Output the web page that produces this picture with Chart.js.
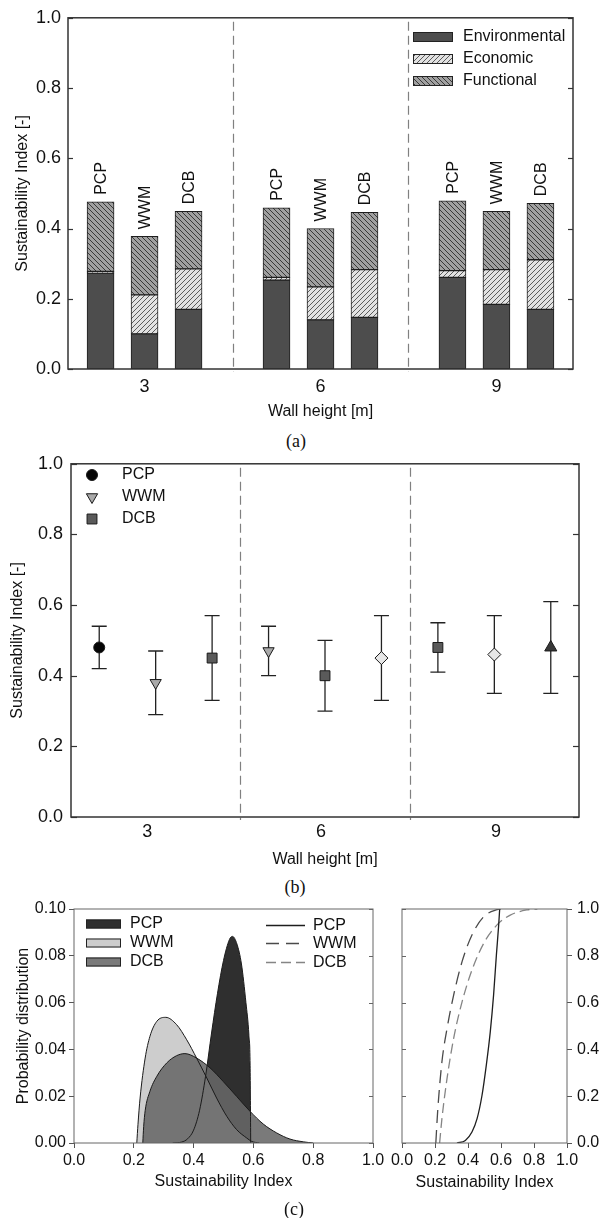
<!DOCTYPE html>
<html>
<head>
<meta charset="utf-8">
<title>Sustainability index of wall systems</title>
<script src="https://cdn.jsdelivr.net/npm/chart.js@4.4.1/dist/chart.umd.min.js"></script>
<style>
  html, body { margin: 0; padding: 0; background: #fff; }
  #page { position: relative; width: 606px; height: 1218px; overflow: hidden; }
  canvas { position: absolute; }
  .panel-tag {
    position: absolute;
    font-family: 'Liberation Serif', 'Times New Roman', serif;
    font-size: 18px;
    color: #111;
    transform: translate(-50%, -50%);
  }
</style>
</head>
<body>
<div id="page">
  <canvas id="chart-a" width="606" height="430" style="left:0;top:0"></canvas>
  <div class="panel-tag" style="left:296px;top:441px">(a)</div>
  <canvas id="chart-b" width="606" height="430" style="left:0;top:445px"></canvas>
  <div class="panel-tag" style="left:295px;top:887px">(b)</div>
  <canvas id="chart-c-pdf" width="390" height="328" style="left:0;top:890px"></canvas>
  <canvas id="chart-c-cdf" width="221" height="328" style="left:385px;top:890px"></canvas>
  <div class="panel-tag" style="left:294px;top:1209px">(c)</div>
</div>
<script>
const systems = ['PCP', 'WWM', 'DCB'];
const wallHeights = ['3', '6', '9'];
const componentNames = ['Environmental', 'Economic', 'Functional'];

// panel (a): stacked contributions, bars ordered 3 m (PCP, WWM, DCB), 6 m, 9 m
const environmental = [0.273, 0.100, 0.170, 0.253, 0.140, 0.147, 0.261, 0.184, 0.170];
const economic = [0.005, 0.111, 0.115, 0.008, 0.094, 0.136, 0.019, 0.099, 0.141];
const functional = [0.198, 0.167, 0.164, 0.198, 0.166, 0.163, 0.199, 0.166, 0.161];

// panel (b): index with its range, same order
const siMean = [0.48, 0.38, 0.45, 0.47, 0.40, 0.45, 0.48, 0.46, 0.48];
const siLow = [0.42, 0.29, 0.33, 0.40, 0.30, 0.33, 0.41, 0.35, 0.35];
const siHigh = [0.54, 0.47, 0.57, 0.54, 0.50, 0.57, 0.55, 0.57, 0.61];

// panel (c): probability distributions
const pdfPcpX = [0.33, 0.36, 0.38, 0.40, 0.42, 0.44, 0.46, 0.48, 0.50, 0.52, 0.53, 0.545, 0.56, 0.575, 0.585, 0.589, 0.591];
const pdfPcpY = [0, 0.0004, 0.0018, 0.0055, 0.0140, 0.0285, 0.0470, 0.0640, 0.0780, 0.0870, 0.0883, 0.0850, 0.0765, 0.0600, 0.0460, 0.0330, 0];
const pdfWwmX = [0.210, 0.214, 0.221, 0.238, 0.254, 0.277, 0.307, 0.343, 0.377, 0.410, 0.444, 0.477, 0.511, 0.544, 0.578, 0.594, 0.620];
const pdfWwmY = [0, 0.0080, 0.0192, 0.0363, 0.0456, 0.0520, 0.0537, 0.0506, 0.0441, 0.0363, 0.0278, 0.0192, 0.0114, 0.0057, 0.0021, 0.0007, 0];
const pdfDcbX = [0.230, 0.233, 0.238, 0.254, 0.277, 0.310, 0.343, 0.371, 0.410, 0.455, 0.499, 0.544, 0.589, 0.633, 0.678, 0.722, 0.767, 0.800];
const pdfDcbY = [0, 0.0070, 0.0138, 0.0221, 0.0285, 0.0342, 0.0373, 0.0382, 0.0363, 0.0321, 0.0263, 0.0199, 0.0135, 0.0081, 0.0043, 0.0017, 0.0005, 0];

// cumulative distributions
const cdfPcpX = [0.333, 0.384, 0.424, 0.455, 0.485, 0.511, 0.535, 0.555, 0.572, 0.586, 0.592];
const cdfPcpY = [0, 0.011, 0.047, 0.104, 0.204, 0.333, 0.475, 0.632, 0.803, 0.932, 1.0];
const cdfWwmX = [0.205, 0.216, 0.242, 0.273, 0.313, 0.364, 0.424, 0.495, 0.576, 0.600];
const cdfWwmY = [0, 0.134, 0.347, 0.489, 0.632, 0.775, 0.889, 0.967, 0.997, 1.0];
const cdfDcbX = [0.228, 0.242, 0.273, 0.313, 0.364, 0.424, 0.495, 0.576, 0.656, 0.758, 0.820];
const cdfDcbY = [0, 0.104, 0.276, 0.447, 0.603, 0.739, 0.853, 0.932, 0.974, 0.996, 1.0];

const FONT = "'Liberation Sans', Arial, sans-serif";
const INK = '#111';
Chart.defaults.font.family = FONT;
Chart.defaults.font.size = 16;
Chart.defaults.color = INK;
Chart.defaults.animation = false;
Chart.defaults.plugins.legend.display = false;
Chart.defaults.plugins.tooltip.enabled = false;

const toXY = (xs, ys) => xs.map((x, i) => ({ x, y: ys[i] }));

// --- small drawing plugins -------------------------------------------------

const framePlugin = {
  id: 'frame',
  afterDatasetsDraw(chart, args, opts) {
    const { ctx, chartArea: a } = chart;
    ctx.save();
    ctx.strokeStyle = opts.color;
    ctx.lineWidth = opts.width;
    ctx.strokeRect(a.left, a.top, a.right - a.left, a.bottom - a.top);
    ctx.restore();
  },
};

const innerTicksPlugin = {
  id: 'innerTicks',
  afterDatasetsDraw(chart, args, opts) {
    const { ctx, chartArea: a } = chart;
    const scale = chart.scales[opts.scale];
    ctx.save();
    ctx.strokeStyle = opts.color;
    ctx.lineWidth = opts.width;
    scale.ticks.forEach((t) => {
      const p = Math.round(scale.getPixelForValue(t.value)) + 0.5;
      opts.sides.forEach((side) => {
        ctx.beginPath();
        if (side === 'left') { ctx.moveTo(a.left, p); ctx.lineTo(a.left + opts.length, p); }
        if (side === 'right') { ctx.moveTo(a.right, p); ctx.lineTo(a.right - opts.length, p); }
        ctx.stroke();
      });
    });
    ctx.restore();
  },
};

const dividerPlugin = {
  id: 'dividers',
  beforeDatasetsDraw(chart, args, opts) {
    const { ctx, chartArea: a } = chart;
    const x = chart.scales.x;
    ctx.save();
    ctx.strokeStyle = opts.color;
    ctx.lineWidth = opts.width;
    ctx.setLineDash(opts.dash);
    opts.at.forEach((v) => {
      const px = Math.round(x.getPixelForValue(v)) + 0.5;
      ctx.beginPath();
      ctx.moveTo(px, a.top + 4);
      ctx.lineTo(px, a.bottom + 3);
      ctx.stroke();
    });
    ctx.restore();
  },
};

const barLabelPlugin = {
  id: 'barLabels',
  afterDatasetsDraw(chart, args, opts) {
    const { ctx } = chart;
    const top = chart.getDatasetMeta(chart.data.datasets.length - 1);
    ctx.save();
    ctx.font = `16px ${FONT}`;
    ctx.fillStyle = INK;
    ctx.textAlign = 'left';
    ctx.textBaseline = 'middle';
    top.data.forEach((bar, i) => {
      ctx.save();
      ctx.translate(bar.x + 1, bar.y - opts.gap);
      ctx.rotate(-Math.PI / 2);
      ctx.fillText(systems[i % 3], 0, 0);
      ctx.restore();
    });
    ctx.restore();
  },
};

const patchLegendPlugin = {
  id: 'patchLegend',
  afterDraw(chart, args, opts) {
    const { ctx } = chart;
    ctx.save();
    ctx.font = `16px ${FONT}`;
    ctx.textBaseline = 'middle';
    opts.items.forEach((di, row) => {
      const ds = chart.data.datasets[di];
      const y = opts.y + row * opts.step;
      ctx.fillStyle = ds.backgroundColor;
      ctx.fillRect(opts.x, y - opts.h / 2, opts.w, opts.h);
      ctx.strokeStyle = '#222';
      ctx.lineWidth = 1;
      ctx.strokeRect(opts.x + 0.5, y - opts.h / 2 + 0.5, opts.w - 1, opts.h - 1);
      ctx.fillStyle = INK;
      ctx.fillText(ds.label, opts.x + opts.w + opts.gap, y);
    });
    ctx.restore();
  },
};

// marker look of each point in panel (b)
const markerStyles = {
  circle: { style: 'circle', radius: 5.5, rotation: 0, fill: '#050505' },
  triangleDown: { style: 'triangle', radius: 6.5, rotation: 180, fill: '#a9a9a9' },
  square: { style: 'rect', radius: 7, rotation: 0, fill: '#5a5a5a' },
  diamond: { style: 'rectRot', radius: 6.5, rotation: 0, fill: '#e6e6e6' },
  triangle: { style: 'triangle', radius: 7, rotation: 0, fill: '#383838' },
};
const pointShapes = ['circle', 'triangleDown', 'square', 'triangleDown', 'square', 'diamond', 'square', 'diamond', 'triangle'];
const legendShapes = ['circle', 'triangleDown', 'square'];

const markerLegendPlugin = {
  id: 'markerLegend',
  afterDraw(chart, args, opts) {
    const { ctx } = chart;
    ctx.save();
    ctx.font = `16px ${FONT}`;
    ctx.textBaseline = 'middle';
    systems.forEach((name, row) => {
      const m = markerStyles[legendShapes[row]];
      const y = opts.y + row * opts.step;
      ctx.fillStyle = m.fill;
      ctx.strokeStyle = '#1a1a1a';
      ctx.lineWidth = 1;
      Chart.helpers.drawPoint(ctx, { pointStyle: m.style, radius: m.radius, rotation: m.rotation, borderWidth: 1 }, opts.x, y);
      ctx.fillStyle = INK;
      ctx.fillText(name, opts.textX, y);
    });
    ctx.restore();
  },
};

// line styles of the cumulative curves, shared with the legend in the left chart
const cdfStyles = [
  { color: '#1e1e1e', dash: [], width: 1.3 },
  { color: '#4a4a4a', dash: [13, 7], width: 1.3 },
  { color: '#858585', dash: [10, 5], width: 1.3 },
];

const lineLegendPlugin = {
  id: 'lineLegend',
  afterDraw(chart, args, opts) {
    const { ctx } = chart;
    ctx.save();
    ctx.font = `16px ${FONT}`;
    ctx.textBaseline = 'middle';
    systems.forEach((name, row) => {
      const st = cdfStyles[row];
      const y = Math.round(opts.y + row * opts.step) + 0.5;
      ctx.strokeStyle = st.color;
      ctx.lineWidth = st.width;
      ctx.setLineDash(st.dash);
      ctx.beginPath();
      ctx.moveTo(opts.x1, y);
      ctx.lineTo(opts.x2, y);
      ctx.stroke();
      ctx.setLineDash([]);
      ctx.fillStyle = INK;
      ctx.fillText(name, opts.x2 + opts.gap, y);
    });
    ctx.restore();
  },
};

function hatch(ctx, bg, ink, dir) {
  const size = 5;
  const tile = document.createElement('canvas');
  tile.width = size;
  tile.height = size;
  const g = tile.getContext('2d');
  g.fillStyle = bg;
  g.fillRect(0, 0, size, size);
  g.strokeStyle = ink;
  g.lineWidth = 1;
  g.beginPath();
  for (let k = -1; k <= 1; k++) {
    if (dir === '/') {
      g.moveTo(k * size, size);
      g.lineTo(k * size + size, 0);
    } else {
      g.moveTo(k * size, 0);
      g.lineTo(k * size + size, size);
    }
  }
  g.stroke();
  return ctx.createPattern(tile, 'repeat');
}

const tickFont = (size) => ({ size });
const axisTitle = (text, padding) => ({ display: true, text, color: INK, font: { size: 16 }, padding });
const noTicks = { display: false, drawTicks: false, offset: false };

// --- panel (a) ----------------------------------------------------------------

const ctxA = document.getElementById('chart-a').getContext('2d');
const fillsA = [
  '#4d4d4d',
  hatch(ctxA, '#e2e2e2', '#5c5c5c', '/'),
  hatch(ctxA, '#a0a0a0', '#383838', '\\'),
];
const barX = (i) => Math.floor(i / 3) * 4 + (i % 3);

new Chart(ctxA, {
  type: 'bar',
  data: {
    datasets: [environmental, economic, functional].map((values, k) => ({
      label: componentNames[k],
      data: values.map((y, i) => ({ x: barX(i), y })),
      backgroundColor: fillsA[k],
      borderColor: '#1e1e1e',
      borderWidth: 1,
      borderSkipped: false,
      barThickness: 27,
    })),
  },
  options: {
    responsive: false,
    devicePixelRatio: 1,
    layout: { padding: { left: 0, top: 16, right: 33, bottom: 0 } },
    scales: {
      x: {
        type: 'linear',
        stacked: true,
        offset: false,
        min: -0.74,
        max: 10.74,
        afterBuildTicks: (s) => { s.ticks = [1, 5, 9].map((value) => ({ value })); },
        afterFit: (s) => { s.height = 61; },
        ticks: { callback: (v, i) => wallHeights[i], font: tickFont(18), padding: 7, color: INK, autoSkip: false, maxRotation: 0 },
        grid: noTicks,
        border: { display: false },
        title: axisTitle('Wall height [m]', { top: 0, bottom: 9 }),
      },
      y: {
        stacked: true,
        min: 0,
        max: 1,
        afterFit: (s) => { s.width = 68; },
        ticks: { stepSize: 0.2, callback: (v) => v.toFixed(1), font: tickFont(18), padding: 7, color: INK },
        grid: noTicks,
        border: { display: false },
        title: axisTitle('Sustainability Index [-]', { top: 13.4, bottom: 0 }),
      },
    },
    plugins: {
      frame: { color: '#333', width: 1.5 },
      innerTicks: { scale: 'y', sides: ['left', 'right'], length: 5, color: '#333', width: 1.2 },
      dividers: { at: [3, 7], color: '#808080', width: 1.2, dash: [9, 5] },
      barLabels: { gap: 7 },
      patchLegend: { items: [0, 1, 2], x: 413, y: 37, step: 22, w: 40, h: 10, gap: 10 },
    },
  },
  plugins: [dividerPlugin, framePlugin, innerTicksPlugin, barLabelPlugin, patchLegendPlugin],
});

// --- panel (b) ----------------------------------------------------------------

const whiskers = siLow.flatMap((lo, i) => [{ x: i, y: lo }, { x: i, y: siHigh[i] }, { x: i, y: null }]);
const caps = siLow.flatMap((lo, i) => [{ x: i, y: lo }, { x: i, y: siHigh[i] }]);

new Chart(document.getElementById('chart-b'), {
  type: 'scatter',
  data: {
    datasets: [
      {
        label: 'Sustainability Index',
        data: siMean.map((y, i) => ({ x: i, y })),
        pointStyle: pointShapes.map((s) => markerStyles[s].style),
        pointRadius: pointShapes.map((s) => markerStyles[s].radius),
        pointRotation: pointShapes.map((s) => markerStyles[s].rotation),
        pointBackgroundColor: pointShapes.map((s) => markerStyles[s].fill),
        pointBorderColor: '#1a1a1a',
        pointBorderWidth: 1,
        order: 0,
      },
      {
        label: 'range caps',
        data: caps,
        pointStyle: 'line',
        pointRadius: 7.5,
        pointBorderColor: '#222',
        pointBorderWidth: 1.3,
        order: 1,
      },
      {
        type: 'line',
        label: 'range',
        data: whiskers,
        borderColor: '#222',
        borderWidth: 1.3,
        pointRadius: 0,
        spanGaps: false,
        order: 2,
      },
    ],
  },
  options: {
    responsive: false,
    devicePixelRatio: 1,
    layout: { padding: { left: 0, top: 18, right: 27, bottom: 0 } },
    scales: {
      x: {
        type: 'linear',
        offset: false,
        min: -0.5,
        max: 8.5,
        afterBuildTicks: (s) => { s.ticks = [0.85, 3.93, 7.03].map((value) => ({ value })); },
        afterFit: (s) => { s.height = 58; },
        ticks: { callback: (v, i) => wallHeights[i], font: tickFont(18), padding: 4.5, color: INK, autoSkip: false, maxRotation: 0 },
        grid: noTicks,
        border: { display: false },
        title: axisTitle('Wall height [m]', { top: 0, bottom: 6 }),
      },
      y: {
        min: 0,
        max: 1,
        afterFit: (s) => { s.width = 71; },
        ticks: { stepSize: 0.2, callback: (v) => v.toFixed(1), font: tickFont(18), padding: 8, color: INK },
        grid: noTicks,
        border: { display: false },
        title: axisTitle('Sustainability Index [-]', { top: 8.4, bottom: 0 }),
      },
    },
    plugins: {
      frame: { color: '#333', width: 1.5 },
      innerTicks: { scale: 'y', sides: ['left', 'right'], length: 6, color: '#333', width: 1.2 },
      dividers: { at: [2.5, 5.5], color: '#808080', width: 1.2, dash: [9, 5] },
      markerLegend: { x: 92, textX: 122, y: 30, step: 22 },
    },
  },
  plugins: [dividerPlugin, framePlugin, innerTicksPlugin, markerLegendPlugin],
});

// --- panel (c), distributions -----------------------------------------------

const pdfSeries = [toXY(pdfPcpX, pdfPcpY), toXY(pdfWwmX, pdfWwmY), toXY(pdfDcbX, pdfDcbY)];
const pdfFills = ['#2f2f2f', '#cdcdcd', 'rgba(104,104,104,0.88)'];

const unitAxis = (height, titlePad) => ({
  type: 'linear',
  min: 0,
  max: 1,
  afterFit: (s) => { s.height = height; },
  ticks: { stepSize: 0.2, callback: (v) => v.toFixed(1), font: tickFont(16), padding: 3, color: INK, autoSkip: false, maxRotation: 0 },
  grid: { drawOnChartArea: false, drawTicks: true, tickLength: 5, color: '#555' },
  border: { display: false },
  title: axisTitle('Sustainability Index', { top: 0, bottom: titlePad }),
});

new Chart(document.getElementById('chart-c-pdf'), {
  type: 'line',
  data: {
    datasets: [
      ...pdfSeries.map((data, k) => ({
        label: systems[k],
        data,
        fill: 'origin',
        backgroundColor: pdfFills[k],
        borderColor: 'transparent',
        borderWidth: 0,
        pointRadius: 0,
        cubicInterpolationMode: 'monotone',
        order: 3 - k,
      })),
      ...pdfSeries.map((data, k) => ({
        label: systems[k] + ' outline',
        data,
        fill: false,
        borderColor: '#1a1a1a',
        borderWidth: 1,
        pointRadius: 0,
        cubicInterpolationMode: 'monotone',
        order: 0,
      })),
    ],
  },
  options: {
    responsive: false,
    devicePixelRatio: 1,
    layout: { padding: { left: 0, top: 19, right: 17, bottom: 0 } },
    scales: {
      x: unitAxis(75, 26.4),
      y: {
        min: 0,
        max: 0.1,
        afterFit: (s) => { s.width = 74; },
        ticks: { stepSize: 0.02, callback: (v) => v.toFixed(2), font: tickFont(16), padding: 3, color: INK },
        grid: { drawOnChartArea: false, drawTicks: true, tickLength: 5, color: '#555' },
        border: { display: false },
        title: axisTitle('Probability distribution', { top: 14.4, bottom: 0 }),
      },
    },
    plugins: {
      frame: { color: '#666', width: 1 },
      innerTicks: { scale: 'y', sides: ['right'], length: 4, color: '#666', width: 1 },
      patchLegend: { items: [0, 1, 2], x: 86, y: 34, step: 19, w: 35, h: 9, gap: 9 },
      lineLegend: { x1: 266, x2: 305, y: 35, step: 18.3, gap: 8 },
    },
  },
  plugins: [framePlugin, innerTicksPlugin, patchLegendPlugin, lineLegendPlugin],
});

// --- panel (c), cumulative ------------------------------------------------------

const cdfSeries = [toXY(cdfPcpX, cdfPcpY), toXY(cdfWwmX, cdfWwmY), toXY(cdfDcbX, cdfDcbY)];

new Chart(document.getElementById('chart-c-cdf'), {
  type: 'line',
  data: {
    datasets: cdfSeries.map((data, k) => ({
      label: systems[k],
      data,
      fill: false,
      borderColor: cdfStyles[k].color,
      borderDash: cdfStyles[k].dash,
      borderWidth: cdfStyles[k].width,
      pointRadius: 0,
      cubicInterpolationMode: 'monotone',
    })),
  },
  options: {
    responsive: false,
    devicePixelRatio: 1,
    layout: { padding: { left: 17, top: 19, right: 0, bottom: 0 } },
    scales: {
      x: unitAxis(75, 25.4),
      y: {
        position: 'right',
        min: 0,
        max: 1,
        afterFit: (s) => { s.width = 39; },
        ticks: { stepSize: 0.2, callback: (v) => v.toFixed(1), font: tickFont(16), padding: 5, color: INK },
        grid: { drawOnChartArea: false, drawTicks: true, tickLength: 5, color: '#555' },
        border: { display: false },
      },
    },
    plugins: {
      frame: { color: '#666', width: 1 },
      innerTicks: { scale: 'y', sides: ['left'], length: 4, color: '#666', width: 1 },
    },
  },
  plugins: [framePlugin, innerTicksPlugin],
});
</script>
</body>
</html>
